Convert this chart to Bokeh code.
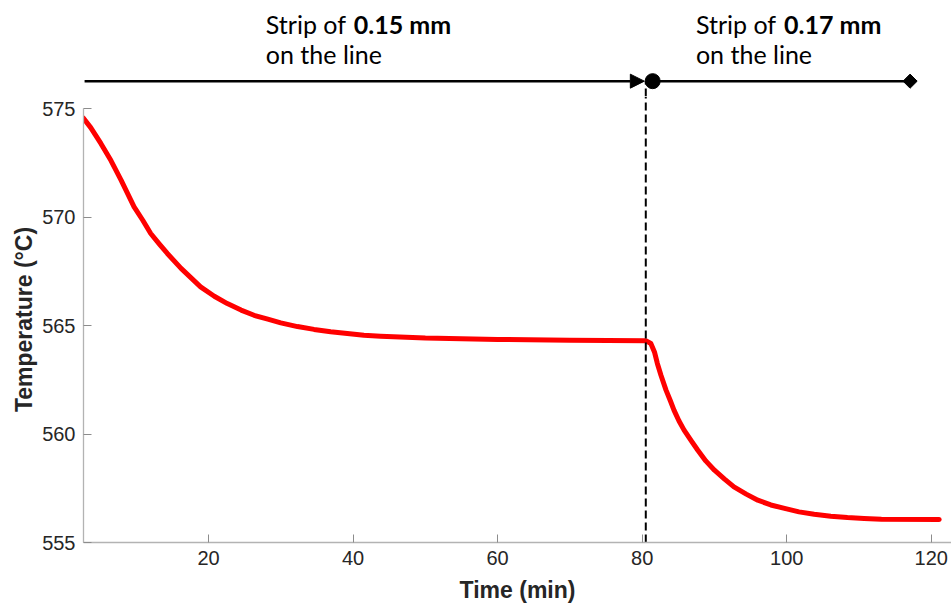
import math
from bokeh.plotting import figure
from bokeh.layouts import column
from bokeh.models import Range1d, Arrow, NormalHead, FixedTicker
from bokeh.core.properties import value
from bokeh.embed import file_html
from bokeh.resources import INLINE

# ---- data ----
time_min = [2.7, 3.7, 5.1, 6.5, 7.9, 9.7, 10.9, 12.0, 13.2, 14.3, 16.2, 18.9,
            20.8, 22.6, 24.5, 26.3, 28.2, 30.0, 32.3, 34.6, 36.9, 39.2, 41.5,
            43.8, 50.0, 60.0, 70.0, 80.5, 81.2, 81.7, 82.1, 82.6, 83.3, 83.9,
            84.4, 85.1, 85.8, 86.8, 87.7, 88.8, 90.0, 91.4, 92.7, 94.4, 96.0,
            97.8, 99.7, 101.7, 103.8, 106.1, 108.4, 110.7, 113.1, 121.1]
temp_c = [574.55, 574.12, 573.39, 572.60, 571.70, 570.47, 569.85, 569.24,
          568.75, 568.32, 567.63, 566.78, 566.35, 566.01, 565.71, 565.47,
          565.29, 565.12, 564.95, 564.82, 564.71, 564.63, 564.55, 564.51,
          564.42, 564.36, 564.32, 564.30, 564.17, 563.78, 563.25, 562.71,
          562.02, 561.53, 561.10, 560.60, 560.18, 559.68, 559.25, 558.76,
          558.33, 557.92, 557.56, 557.23, 556.95, 556.73, 556.57, 556.41,
          556.30, 556.21, 556.15, 556.11, 556.07, 556.06]
x_ticks = [20, 40, 60, 80, 100, 120]
y_ticks = [555, 560, 565, 570, 575]
switch_time = 80.5
strip_labels = ["0.15 mm", "0.17 mm"]

x_range = Range1d(2.7, 122.8)
Y_SPLIT = 575.553          # value at the border between the two panels
ARROW_Y = 576.26

# ---------- top panel: strip annotations ----------
top = figure(width=951, height=96, output_backend="svg", toolbar_location=None,
             x_range=x_range, y_range=Range1d(Y_SPLIT, 579.977),
             x_axis_location=None, y_axis_location=None,
             min_border_left=83, min_border_right=0, min_border_top=0,
             min_border_bottom=0)
top.outline_line_color = None
top.xgrid.visible = False
top.ygrid.visible = False

top.segment(x0=[switch_time], y0=[Y_SPLIT], x1=[switch_time], y1=[ARROW_Y],
            line_color="black", line_width=2, line_dash="8 4")
top.add_layout(Arrow(end=NormalHead(size=14, fill_color="black", line_color="black"),
                     x_start=2.85, y_start=ARROW_Y, x_end=80.3, y_end=ARROW_Y,
                     line_color="black", line_width=2.5))
top.segment(x0=[81.45], y0=[ARROW_Y], x1=[117.07], y1=[ARROW_Y],
            line_color="black", line_width=2.5)
top.scatter(x=[81.45], y=[ARROW_Y], size=15, marker="circle", color="black")
top.scatter(x=[117.07], y=[ARROW_Y], size=10, marker="square",
            angle=math.pi / 4, color="black")

font = value("Lato")
for xs, bold in [(27.93, strip_labels[0]), (87.44, strip_labels[1])]:
    top.text(x=[xs], y=[578.89], text=["Strip of"], text_font=font,
             text_font_size="25px", text_color="black", text_baseline="alphabetic")
    top.text(x=[xs], y=[578.89], text=[bold], text_font=font, x_offset=88,
             text_font_size="25px", text_font_style="bold", text_color="black",
             text_baseline="alphabetic")
    top.text(x=[xs], y=[577.51], text=["on the line"], text_font=font,
             text_font_size="25px", text_color="black", text_baseline="alphabetic")

# ---------- main panel: temperature curve ----------
p = figure(width=951, height=512, output_backend="svg", toolbar_location=None,
           x_range=x_range, y_range=Range1d(555, Y_SPLIT),
           min_border_left=83, min_border_right=0, min_border_top=0,
           min_border_bottom=66)
p.outline_line_color = None
p.xgrid.visible = False
p.ygrid.visible = False

p.line(time_min, temp_c, line_color="#ff0000", line_width=5,
       line_join="round", line_cap="round")
p.segment(x0=[switch_time], y0=[555], x1=[switch_time], y1=[Y_SPLIT],
          line_color="black", line_width=2, line_dash="8 4")

for ax in (p.xaxis[0], p.yaxis[0]):
    ax.axis_line_color = "#b3b3b3"
    ax.axis_line_width = 1.3
    ax.major_tick_line_color = "#8c8c8c"
    ax.major_tick_in = 8
    ax.major_tick_out = 0
    ax.minor_tick_line_color = None
    ax.major_label_text_font = "Liberation Sans"
    ax.major_label_text_font_size = "20px"
    ax.major_label_text_color = "#262626"
    ax.axis_label_text_font = "Liberation Sans"
    ax.axis_label_text_font_style = "bold"
    ax.axis_label_text_font_size = "23px"
    ax.axis_label_text_color = "#262626"
    ax.major_label_standoff = 8

p.xaxis.ticker = FixedTicker(ticks=x_ticks)
p.yaxis.ticker = FixedTicker(ticks=y_ticks)
p.yaxis.bounds = (555, 575)
p.xaxis.axis_label = "Time (min)"
p.yaxis.axis_label = "Temperature (°C)"
p.xaxis.axis_label_standoff = 9
p.yaxis.axis_label_standoff = 2

layout = column(top, p, spacing=0)
open("out.html", "w").write(file_html(layout, INLINE))
